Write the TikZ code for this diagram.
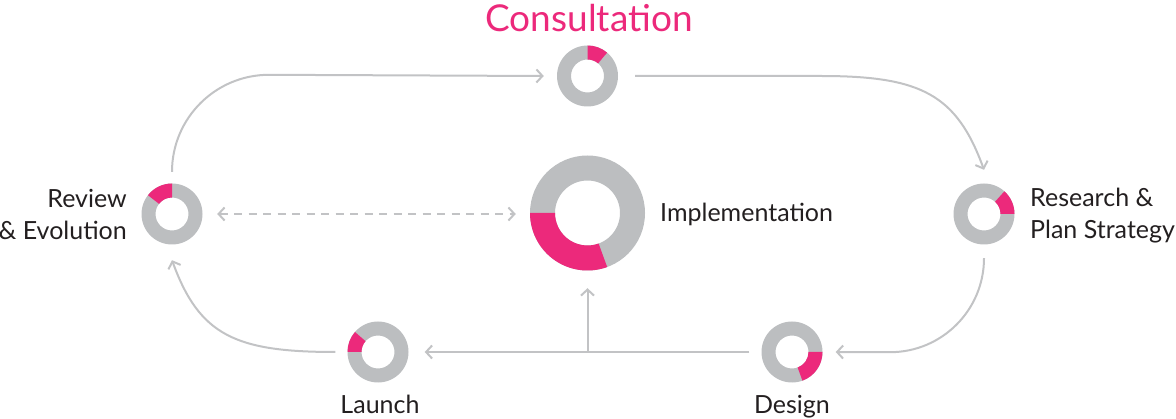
\documentclass[tikz,border=0pt]{standalone}
\usepackage{fontspec}
\setmainfont{Lato}
\usetikzlibrary{arrows.meta,calc}
\definecolor{ringgray}{HTML}{BCBEC0}
\definecolor{linegray}{HTML}{C2C3C5}
\definecolor{ringpink}{HTML}{EC297B}
\definecolor{txt}{HTML}{231F20}
\newcommand\myring[5]{%
  \fill[ringgray, even odd rule] (#1) circle[radius=#2] (#1) circle[radius=#3];
  \fill[ringpink] ($(#1)+(#4:#2)$) arc[start angle=#4, end angle=#5, radius=#2]
     -- ($(#1)+(#5:#3)$) arc[start angle=#5, end angle=#4, radius=#3] -- cycle;
}
\begin{document}
\begin{tikzpicture}[x=1pt,y=1pt,
  donut/.style={circle,inner sep=0pt,minimum size=61pt},
  bigdonut/.style={circle,inner sep=0pt,minimum size=115pt},
  tipb/.tip={Straight Barb[length=6pt,width=13pt]},
  arr/.style={draw=linegray,line width=2pt,-tipb},
  lbl/.style={text=txt,font=\fontsize{25}{32}\selectfont,inner sep=0pt},
]
\useasboundingbox (0,0) rectangle (1176,418);
\node[donut] (cons) at (587.5,342) {};
\node[donut] (rev) at (172,204) {};
\node[donut] (res) at (984,204) {};
\node[donut] (lau) at (378,66) {};
\node[donut] (des) at (792,66) {};
\node[bigdonut] (imp) at (587.5,205) {};
\myring{cons}{30.5}{16.5}{50}{90}
\myring{rev}{30.5}{16.5}{90}{142}
\myring{res}{30.5}{16.5}{0}{48}
\myring{lau}{30.5}{16.5}{139}{180}
\myring{des}{30.5}{16.5}{-70}{0}
\myring{imp}{57.5}{32.5}{180}{290}

\node[lbl, text=ringpink, font=\fontsize{37}{42}\selectfont, anchor=base] (tcons) at ([xshift=1.5,yshift=14]cons.north) {Consultation};
\node[lbl, align=right, anchor=east] (trev) at (127,204) {Review\\\& Evolution};
\node[lbl, align=left, anchor=west] (tres) at (1030,202) {Research \&\\Plan Strategy};
\node[lbl, anchor=base west] (timp) at (660,196) {Implementation};
\node[lbl, anchor=base] (tlau) at ([xshift=2,yshift=-30.5]lau.south) {Launch};
\node[lbl, anchor=base] (tdes) at ([yshift=-30.5]des.south) {Design};

\draw[arr] ([yshift=11.5]rev.north) arc[start angle=180,end angle=90,radius=97] -- ([xshift=-13]cons.west);
\draw[arr] ([xshift=17]cons.east) -- ++(186,0) .. controls +(100,0) and +(-27.4,75.2) .. ([yshift=13.5]res.north);
\draw[arr] ([yshift=-13.5]res.south) arc[start angle=0,end angle=-90,radius=94] -- ([xshift=13]des.east);
\draw[arr] ([xshift=-12]des.west) -- ([xshift=16]lau.east);
\draw[arr] (imp.south |- des.west) -- ([yshift=-17.5]imp.south);
\draw[arr] ([xshift=-12]lau.west) .. controls +(-100,0) and +(27.4,-75.2) .. ([yshift=-15.5]rev.south);
\draw[arr, tipb-tipb, dash pattern=on 8pt off 6.5pt] ([xshift=14.5]rev.east) -- ([xshift=-14]rev.east -| imp.west);
\end{tikzpicture}
\end{document}
